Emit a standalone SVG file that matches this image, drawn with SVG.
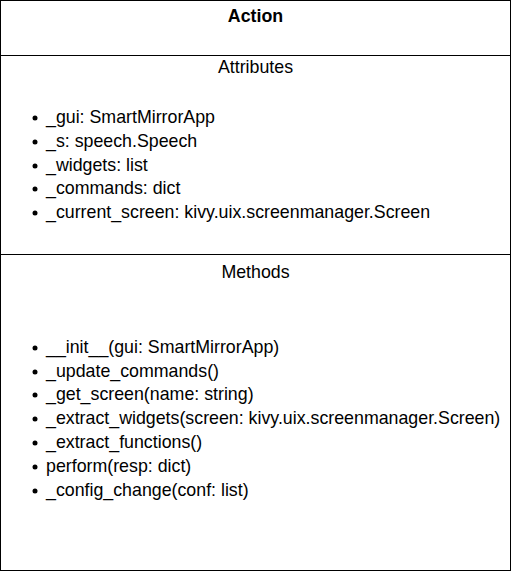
<svg xmlns="http://www.w3.org/2000/svg" width="511" height="571" viewBox="0 0 511 571">
<style>
text{font-family:"Liberation Sans",Arial,sans-serif;font-size:17.8px;fill:#000}
.t{font-weight:bold;text-anchor:middle}
.h{text-anchor:middle}
.ln{stroke:#000;stroke-width:1;fill:none}
.b{fill:#000}
</style>
<g id="Action">
<rect class="ln" x="0.5" y="0.5" width="510" height="570" fill="#fff"/>
<line class="ln" x1="0.5" y1="55.5" x2="510.5" y2="55.5"/>
<line class="ln" x1="0.5" y1="254.5" x2="510.5" y2="254.5"/>
<text class="t" x="255.5" y="22">Action</text>
<text class="h" x="255.5" y="73">Attributes</text>
<g class="b">
<circle cx="35" cy="118" r="2.5"/><circle cx="35" cy="142" r="2.5"/><circle cx="35" cy="166" r="2.5"/><circle cx="35" cy="189" r="2.5"/><circle cx="35" cy="213" r="2.5"/>
</g>
<text x="46" y="123">_gui: SmartMirrorApp</text>
<text x="46" y="147">_s: speech.Speech</text>
<text x="46" y="171">_widgets: list</text>
<text x="46" y="194">_commands: dict</text>
<text x="46" y="218">_current_screen: kivy.uix.screenmanager.Screen</text>
<text class="h" x="255.5" y="278">Methods</text>
<g class="b">
<circle cx="35" cy="348" r="2.5"/><circle cx="35" cy="372" r="2.5"/><circle cx="35" cy="395" r="2.5"/><circle cx="35" cy="419" r="2.5"/><circle cx="35" cy="443" r="2.5"/><circle cx="35" cy="467" r="2.5"/><circle cx="35" cy="491" r="2.5"/>
</g>
<text x="46" y="353">__init__(gui: SmartMirrorApp)</text>
<text x="46" y="377">_update_commands()</text>
<text x="46" y="400">_get_screen(name: string)</text>
<text x="46" y="424">_extract_widgets(screen: kivy.uix.screenmanager.Screen)</text>
<text x="46" y="448">_extract_functions()</text>
<text x="46" y="472">perform(resp: dict)</text>
<text x="46" y="496">_config_change(conf: list)</text>
</g>
</svg>
